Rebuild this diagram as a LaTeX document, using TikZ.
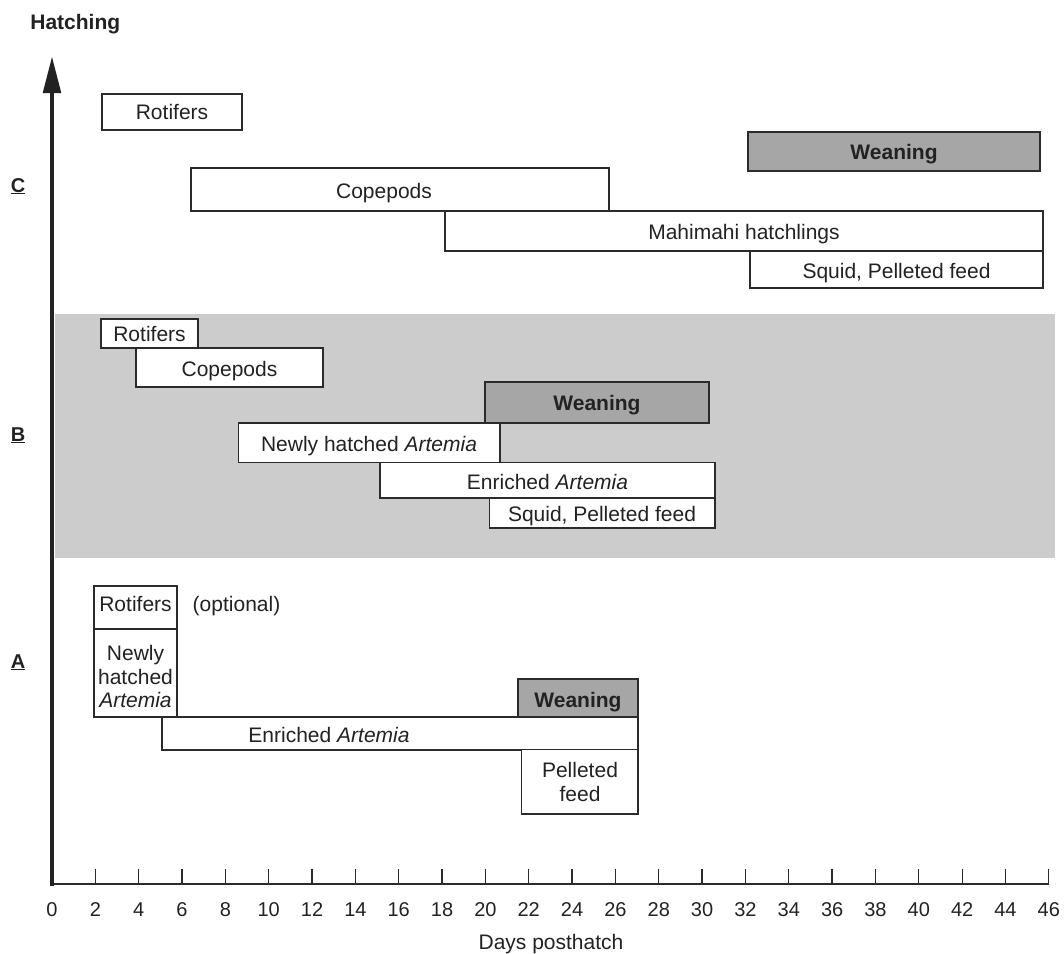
\documentclass[tikz,border=0pt]{standalone}
\usepackage{fontspec}
\setmainfont{Liberation Sans}
\definecolor{bandgray}{HTML}{CCCCCC}
\definecolor{weangray}{HTML}{A6A6A6}
\definecolor{edge}{HTML}{2B2B2B}
\definecolor{ink}{HTML}{222222}
\begin{document}
\begin{tikzpicture}[x=1pt,y=-1pt,
  bx/.style={draw=edge, line width=1.2pt, fill=white},
  wbx/.style={bx, fill=weangray},
  lbl/.style={font=\fontsize{21}{24}\selectfont, inner sep=0pt, anchor=base, text=ink},
  wlbl/.style={lbl, font=\fontsize{21}{24}\selectfont\bfseries},
  tlbl/.style={lbl, font=\fontsize{20}{24}\selectfont},
  seclbl/.style={lbl, font=\fontsize{20}{24}\selectfont\bfseries},
  axisline/.style={draw=edge, line width=1.3pt}]
\useasboundingbox (0,0) rectangle (1064,953);
% band B
\fill[bandgray] (55,314) rectangle (1055,558);
% axes
\coordinate (origin) at (52,884);
\coordinate (xend) at (1049,884);
\coordinate (ytop) at (52,90);
\coordinate (ytip) at (52,57);
\draw[axisline] (origin) -- (xend);
\foreach \d in {2,4,...,46}{
  \draw[axisline] ({52+21.67*\d},869) -- ({52+21.67*\d},884);
}
\foreach \d in {0,2,...,46}{
  \node[tlbl] (t\d) at ({52+21.67*\d},916) {\d};
}
\node[lbl] (xlab) at (551,949) {Days posthatch};
\draw[draw=ink, line width=4.5pt] (52,886.2) -- (ytop);
\fill[ink] (ytip) -- (42.7,93) -- (61.3,93) -- cycle;
\node[lbl, font=\fontsize{21}{24}\selectfont\bfseries] (hatch) at (75.3,29.5) {Hatching};
% section labels
\node[seclbl] (labC) at (18,192) {\underline{C}};
\node[seclbl] (labB) at (18,441) {\underline{B}};
\node[seclbl] (labA) at (18,668) {\underline{A}};
% ---- C ----
\draw[bx] (102,94) rectangle (242,130);
\node[lbl] (rotC) at (172,119.5) {Rotifers};
\draw[wbx] (748,132) rectangle (1040,171);
\node[wlbl] (weanC) at (894,159) {Weaning};
\draw[bx] (191,168) rectangle (609,211);
\node[lbl] (copC) at (384,198) {Copepods};
\draw[bx] (445,211) rectangle (1043,251);
\draw[bx] (750,251) rectangle (1043,288);
\node[lbl] (mahiC) at (744,239.5) {Mahimahi hatchlings};
\node[lbl] (squidC) at (896.5,278) {Squid, Pelleted feed};
% ---- B ----
\draw[bx] (101,319) rectangle (198,348);
\node[lbl] (rotB) at (149.5,341) {Rotifers};
\draw[bx] (136,348) rectangle (323,387);
\node[lbl] (copB) at (229.5,376) {Copepods};
\draw[wbx] (485,382) rectangle (709,423);
\node[wlbl] (weanB) at (597,410) {Weaning};
\draw[bx] (238.5,423) rectangle (500,462.5);
\node[lbl] (nhaB) at (369,451.5) {Newly hatched \textit{Artemia}};
\draw[bx] (380,462.5) rectangle (715,498);
\node[lbl] (enrB) at (547.5,489) {Enriched \textit{Artemia}};
\draw[bx] (489.5,498) rectangle (715,528);
\node[lbl] (squidB) at (602,521) {Squid, Pelleted feed};
% ---- A ----
\draw[bx] (94,586) rectangle (177,629);
\node[lbl] (rotA) at (135.5,611) {Rotifers};
\node[lbl] (optA) at (236.5,611) {(optional)};
\draw[bx] (94,629) rectangle (177,717);
\node[lbl] (nhaA1) at (135.5,660.5) {Newly};
\node[lbl] (nhaA2) at (135.5,684) {hatched};
\node[lbl] (nhaA3) at (135.5,707.5) {\textit{Artemia}};
\draw[wbx] (518,679) rectangle (638,717);
\node[wlbl] (weanA) at (578,707) {Weaning};
\draw[bx] (162,717) rectangle (638,750);
\node[lbl] (enrA) at (329,742.5) {Enriched \textit{Artemia}};
\draw[bx] (521.5,749.5) rectangle (638,814);
\node[lbl] (pelA1) at (580,777.5) {Pelleted};
\node[lbl] (pelA2) at (580,801) {feed};
\end{tikzpicture}
\end{document}
